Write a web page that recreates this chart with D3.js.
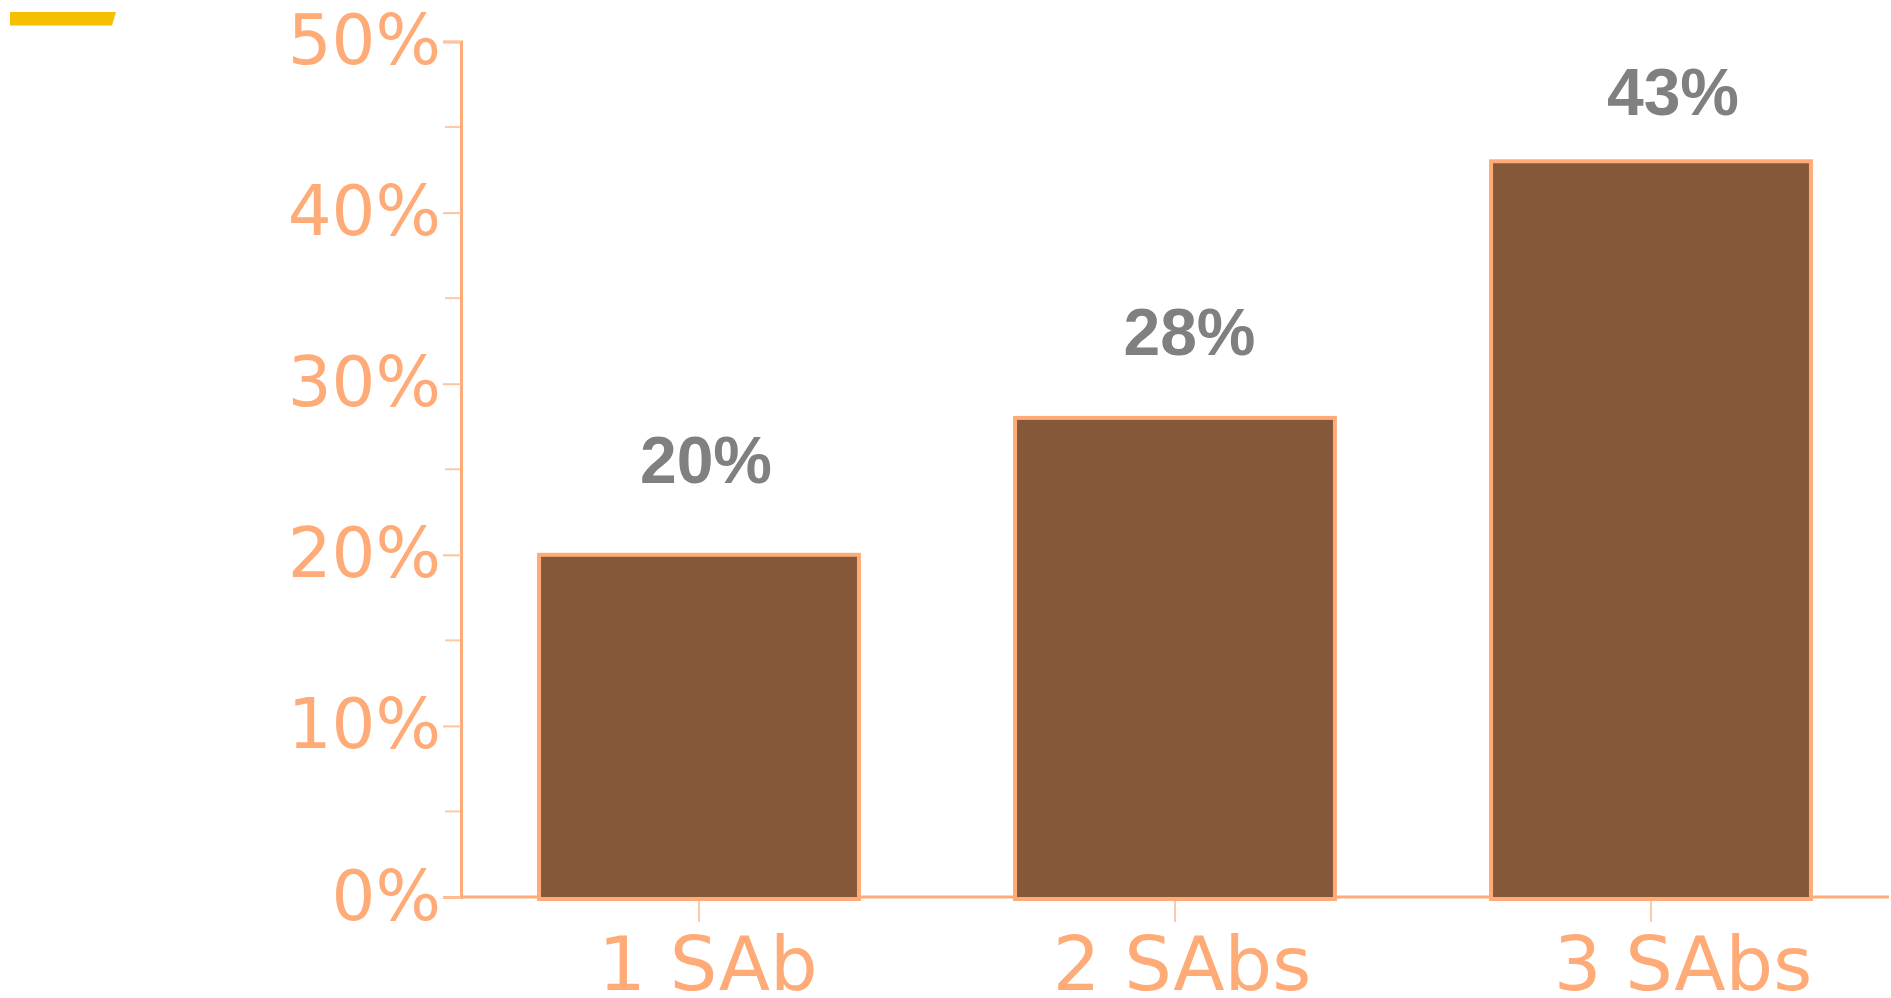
<!DOCTYPE html>
<html lang="en">
<head>
	<meta charset="UTF-8">
	<title>SAbs chart</title>
	<style>
		body { margin: 0; background: #fff; }
		svg { display: block; }
	</style>
</head>
<body>
	<svg id="container" width="1891" height="998"></svg>
</body>
<script src="https://cdn.jsdelivr.net/npm/d3@7/dist/d3.min.js"></script>
<script>
	// data
	let categories = ["1 SAb", "2 SAbs", "3 SAbs"];
	let values = [20, 28, 43];
	let yTicks = [0, 10, 20, 30, 40, 50];
	let yMinorTicks = [5, 15, 25, 35, 45];

	let orange = "#ffab78";
	let svg = d3.select("#container");

	// little yellow mark top left
	svg.append("path")
		.attr("d", "M10,12 L116,12 L112,25.5 L10,25.5 Z")
		.attr("fill", "#f5c000");

	let x = d3.scaleBand()
		.domain(categories)
		.range([461, 1889])
		.paddingInner(0.328)
		.paddingOuter(0.164);

	let y = d3.scaleLinear()
		.domain([0, 50])
		.range([897, 41.5]);

	// value labels and category names sit on their own, slightly different scales
	let labelX = d3.scaleLinear().domain([0, 2]).range([706, 1673]);
	let labelY = d3.scaleLinear().domain([0, 50]).range([803, 3]);
	let catX = d3.scaleLinear().domain([0, 1, 2]).range([708, 1182, 1683]);

	// minor ticks
	svg.append("g")
		.selectAll("line")
		.data(yMinorTicks)
		.enter()
		.append("line")
		.attr("x1", 445).attr("x2", 461)
		.attr("y1", d => y(d)).attr("y2", d => y(d))
		.attr("stroke", "#ffc9a6").attr("stroke-width", 2);

	// y axis
	let yAxis = svg.append("g")
		.attr("transform", "translate(461,0)")
		.call(d3.axisLeft(y).tickValues(yTicks).tickFormat(d => d + "%").tickSize(18).tickPadding(2));
	yAxis.select(".domain").attr("stroke", orange).attr("stroke-width", 3);
	yAxis.selectAll(".tick line").attr("stroke", "#ffc3a0").attr("stroke-width", 2);
	yAxis.selectAll(".tick text")
		.attr("fill", orange)
		.style("font-family", "'DejaVu Sans'")
		.style("font-size", "69px");

	// x axis ticks
	svg.append("g")
		.selectAll("line")
		.data(categories)
		.enter()
		.append("line")
		.attr("x1", d => x(d) + x.bandwidth() / 2)
		.attr("x2", d => x(d) + x.bandwidth() / 2)
		.attr("y1", y(0)).attr("y2", y(0) + 25)
		.attr("stroke", "#ffcaa8").attr("stroke-width", 2);

	svg.append("line")
		.attr("x1", 461).attr("x2", 1889)
		.attr("y1", y(0)).attr("y2", y(0))
		.attr("stroke", orange).attr("stroke-width", 3);

	// bars
	svg.append("g")
		.selectAll("rect")
		.data(values)
		.enter()
		.append("rect")
		.attr("x", (d, i) => x(categories[i]))
		.attr("y", d => y(d))
		.attr("width", x.bandwidth())
		.attr("height", d => y(0) - y(d) + 2)
		.attr("fill", "#845839")
		.attr("stroke", orange)
		.attr("stroke-width", 4);

	// value labels
	svg.append("g")
		.selectAll("text")
		.data(values)
		.enter()
		.append("text")
		.attr("x", (d, i) => labelX(i))
		.attr("y", d => labelY(d))
		.attr("text-anchor", "middle")
		.attr("fill", "#808080")
		.style("font-family", "'Liberation Sans', Arial, Helvetica, sans-serif")
		.style("font-weight", "bold")
		.style("font-size", "66px")
		.text(d => d + "%");

	// category labels
	svg.append("g")
		.selectAll("text")
		.data(categories)
		.enter()
		.append("text")
		.attr("x", (d, i) => catX(i))
		.attr("y", 990)
		.attr("text-anchor", "middle")
		.attr("fill", orange)
		.style("font-family", "'DejaVu Sans'")
		.style("font-size", "75px")
		.text(d => d);
</script>
</html>
